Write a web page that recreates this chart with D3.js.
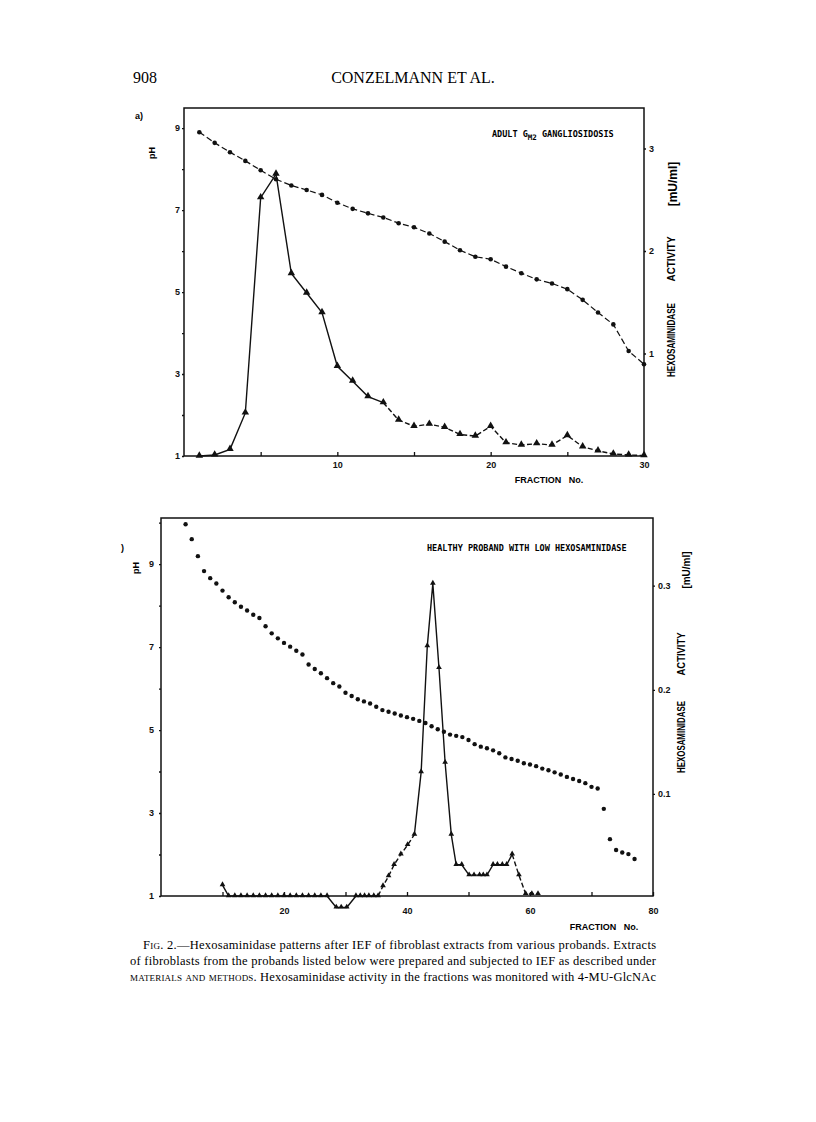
<!DOCTYPE html>
<html>
<head>
<meta charset="utf-8">
<script src="https://cdn.jsdelivr.net/npm/d3@7"></script>
<style>
  body { margin: 0; background: #fff; }
  svg { display: block; }
</style>
</head>
<body>
<script>
// ---- page text ----
const pageNo = "908";
const runningHead = "CONZELMANN ET AL.";

// ---- panel a) adult GM2 gangliosidosis ----
const fracA = [1, 2, 3, 4, 5, 6, 7, 8, 9, 10, 11, 12, 13, 14, 15, 16, 17, 18, 19, 20, 21, 22, 23, 24, 25, 26, 27, 28, 29, 30];
const phA = [8.90, 8.64, 8.41, 8.20, 7.97, 7.75, 7.60, 7.49, 7.37, 7.18, 7.03, 6.92, 6.82, 6.68, 6.58,
             6.43, 6.23, 6.02, 5.86, 5.80, 5.62, 5.46, 5.31, 5.21, 5.07, 4.81, 4.50, 4.21, 3.56, 3.24];
const actA = [0.0, 0.01, 0.065, 0.42, 2.52, 2.75, 1.78, 1.59, 1.40, 0.875, 0.73, 0.58, 0.52, 0.35, 0.29,
              0.31, 0.28, 0.21, 0.195, 0.29, 0.13, 0.107, 0.12, 0.107, 0.20, 0.09, 0.05, 0.02, 0.01, 0.005];
const xTicksA = [5, 10, 15, 20, 25, 30];
const xLabelsA = [10, 20, 30];
const phTicksA = [1, 2, 3, 4, 5, 6, 7, 8, 9];
const phLabelsA = [1, 3, 5, 7, 9];
const actTicksA = [1, 2, 3];

// ---- panel b) healthy proband with low hexosaminidase ----
const fracPhB = [4, 5, 6, 7, 8, 9, 10, 11, 12, 13, 14, 15, 16, 17, 18, 19, 20, 21, 22, 23, 24, 25, 26, 27, 28, 29, 30,
                 31, 32, 33, 34, 35, 36, 37, 38, 39, 40, 41, 42, 43, 44, 45, 46, 47, 48, 49, 50, 51, 52, 53, 54, 55,
                 56, 57, 58, 59, 60, 61, 62, 63, 64, 65, 66, 67, 68, 69, 70, 71, 72, 73, 74, 75, 76, 77];
const phB = [9.96, 9.60, 9.19, 8.83, 8.66, 8.53, 8.36, 8.20, 8.08, 7.97, 7.88, 7.78, 7.70, 7.50, 7.33, 7.21, 7.10,
             7.01, 6.91, 6.82, 6.58, 6.47, 6.37, 6.25, 6.13, 6.05, 5.90, 5.82, 5.74, 5.69, 5.64, 5.56, 5.48, 5.44,
             5.40, 5.35, 5.31, 5.27, 5.22, 5.17, 5.09, 5.02, 4.96, 4.89, 4.86, 4.83, 4.76, 4.66, 4.60, 4.56, 4.51,
             4.44, 4.34, 4.30, 4.26, 4.20, 4.17, 4.13, 4.07, 4.03, 3.98, 3.93, 3.87, 3.82, 3.77, 3.72, 3.63, 3.59,
             3.10, 2.37, 2.11, 2.05, 2.01, 1.89];
const fracActB = [10, 11, 12, 13, 14, 15, 16, 17, 18, 19, 20, 21, 22, 23, 24, 25, 26, 27, 28.5, 29.3, 30.2,
                  31.7, 32.4, 33.1, 33.8, 34.6, 35.3, 36.1, 37, 37.9, 39, 40.1, 41.2, 42.3, 43.3, 44.2, 45.2, 46.2,
                  47.2, 48, 48.9, 50.1, 50.9, 51.8, 52.4, 53, 54, 54.7, 55.5, 56.2, 57.1, 58.2, 59.3, 60.3, 61.3];
const actB = [0.0125, 0.002, 0.002, 0.002, 0.002, 0.002, 0.002, 0.002, 0.002, 0.002, 0.002, 0.002, 0.002, 0.002,
              0.002, 0.002, 0.002, 0.002, -0.009, -0.009, -0.009, 0.002, 0.002, 0.002, 0.002, 0.002, 0.002,
              0.0115, 0.021, 0.032, 0.042, 0.051, 0.061, 0.121, 0.242, 0.302, 0.221, 0.130, 0.061, 0.032, 0.032,
              0.022, 0.022, 0.022, 0.022, 0.022, 0.032, 0.032, 0.032, 0.032, 0.042, 0.022, 0.004, 0.004, 0.004];
const xTicksB = [10, 20, 30, 40, 50, 60, 70, 80];
const xLabelsB = [20, 40, 60, 80];
const phTicksB = [1, 2, 3, 4, 5, 6, 7, 8, 9, 10];
const phLabelsB = [1, 3, 5, 7, 9];
const actTicksB = [0.1, 0.2, 0.3];

// ---- caption ----
const captionLines = [
  ["sc:Fig.", " 2.\u2014Hexosaminidase patterns after IEF of fibroblast extracts from various probands. Extracts"],
  ["of fibroblasts from the probands listed below were prepared and subjected to IEF as described under"],
  ["sc:materials and methods", ". Hexosaminidase activity in the fractions was monitored with 4-MU-GlcNAc"]
];

const W = 816, H = 1122;
const svg = d3.select("body").append("svg")
  .attr("width", W).attr("height", H)
  .style("font-family", "'Liberation Sans', Arial, sans-serif");

svg.append("rect").attr("width", W).attr("height", H).attr("fill", "#fff");

// running head
svg.append("text").attr("x", 133).attr("y", 83)
  .style("font-family", "'Liberation Serif', serif").style("font-size", "16px")
  .text(pageNo);
svg.append("text").attr("x", 413).attr("y", 83).attr("text-anchor", "middle")
  .style("font-family", "'Liberation Serif', serif").style("font-size", "16px")
  .text(runningHead);

// split a polyline into solid / dashed pieces
function pieces(pts, dashRanges) {
  const out = [];
  for (let i = 0; i < pts.length - 1; i++) {
    const a = pts[i], b = pts[i + 1];
    const dashed = dashRanges.some(r => a.f >= r[0] && b.f <= r[1]);
    const last = out[out.length - 1];
    if (last && last.dashed === dashed) last.pts.push(b);
    else out.push({ dashed: dashed, pts: [a, b] });
  }
  return out;
}

function drawPanel(p) {
  const g = svg.append("g");
  const x = d3.scaleLinear().domain(p.xDomain).range([p.left, p.right]);
  const yPh = d3.scaleLinear().domain(p.phDomain).range([p.bottom, p.top]);
  const yAct = d3.scaleLinear().domain(p.actDomain).range([p.bottom, p.top]);

  // frame
  g.append("rect")
    .attr("x", p.left).attr("y", p.top)
    .attr("width", p.right - p.left).attr("height", p.bottom - p.top)
    .attr("fill", "none").attr("stroke", "#111").attr("stroke-width", 1.5);

  const styleAxis = sel => {
    sel.select(".domain").remove();
    sel.selectAll("line").attr("stroke", "#111").attr("stroke-width", 1.3);
    sel.selectAll("text").attr("fill", "#111")
      .style("font-family", "'Liberation Sans', Arial, sans-serif")
      .style("font-size", "9px").style("font-weight", "bold");
  };

  g.append("g").attr("transform", `translate(${p.left},0)`)
    .call(d3.axisLeft(yPh).tickValues(p.phTicks).tickSize(2).tickPadding(p.leftPad)
      .tickFormat(d => p.phLabels.includes(d) ? d : ""))
    .call(styleAxis);

  g.append("g").attr("transform", `translate(0,${p.bottom})`)
    .call(d3.axisBottom(x).tickValues(p.xTicks).tickSizeInner(-4).tickSizeOuter(0).tickPadding(p.bottomPad)
      .tickFormat(d => p.xLabels.includes(d) ? d : ""))
    .call(styleAxis);

  g.append("g").attr("transform", `translate(${p.right},0)`)
    .call(d3.axisRight(yAct).tickValues(p.actTicks).tickSize(2).tickPadding(3)
      .tickFormat(d => String(d)))
    .call(styleAxis);

  // axis titles
  g.append("text")
    .attr("transform", `translate(${p.phTitle[0]},${p.phTitle[1]}) rotate(-90)`)
    .attr("text-anchor", "middle")
    .style("font-size", "9px").style("font-weight", "bold").text("pH");

  g.append("text").attr("x", p.xTitle[0]).attr("y", p.xTitle[1])
    .attr("text-anchor", "middle").style("white-space", "pre")
    .style("font-size", "9px").style("font-weight", "bold").text("FRACTION   No.");

  g.append("text")
    .attr("transform", `translate(${p.hexTitle[0]},${p.hexTitle[1]}) rotate(-90)`)
    .attr("text-anchor", "middle")
    .attr("textLength", p.hexTitle[2]).attr("lengthAdjust", "spacingAndGlyphs")
    .style("font-size", "10px").style("font-weight", "bold").text("HEXOSAMINIDASE");
  g.append("text")
    .attr("transform", `translate(${p.actTitle[0]},${p.actTitle[1]}) rotate(-90)`)
    .attr("text-anchor", "middle")
    .attr("textLength", p.actTitle[2]).attr("lengthAdjust", "spacingAndGlyphs")
    .style("font-size", "10px").style("font-weight", "bold").text("ACTIVITY");
  g.append("text")
    .attr("transform", `translate(${p.unitTitle[0]},${p.unitTitle[1]}) rotate(-90)`)
    .attr("text-anchor", "middle")
    .style("font-size", p.unitSize).style("font-weight", "bold").text("[mU/ml]");

  // panel label
  g.append("text").attr("x", p.tag[0]).attr("y", p.tag[1])
    .style("font-size", "9px").style("font-weight", "bold").text(p.tagText);

  // title inside box
  const t = g.append("text").attr("x", p.title[0]).attr("y", p.title[1])
    .style("font-family", "'DejaVu Sans Mono', monospace").style("font-size", "8.5px")
    .style("font-weight", "bold").style("white-space", "pre");
  p.titleParts.forEach(part => {
    if (part.sub) t.append("tspan").attr("dy", 3).style("font-size", "7.5px").text(part.sub);
    else t.append("tspan").attr("dy", part.back ? -3 : 0).text(part.txt);
  });

  // pH series
  const ph = p.phFrac.map((f, i) => ({ f: f, v: p.phVals[i] }));
  if (p.phLine) {
    g.append("path").datum(ph)
      .attr("d", d3.line().x(d => x(d.f)).y(d => yPh(d.v)))
      .attr("fill", "none").attr("stroke", "#111").attr("stroke-width", 1.2)
      .attr("stroke-dasharray", "6,3");
  }
  g.selectAll(null).data(ph).join("circle")
    .attr("cx", d => x(d.f)).attr("cy", d => yPh(d.v)).attr("r", p.dotR).attr("fill", "#111");

  // activity series
  const act = p.actFrac.map((f, i) => ({ f: f, v: p.actVals[i] }));
  const line = d3.line().x(d => x(d.f)).y(d => yAct(d.v));
  pieces(act, p.dashRanges).forEach(pc => {
    g.append("path").datum(pc.pts).attr("d", line)
      .attr("fill", "none").attr("stroke", "#111").attr("stroke-width", 1.4)
      .attr("stroke-dasharray", pc.dashed ? "5,2.5" : null);
  });
  const tri = d3.symbol().type(d3.symbolTriangle).size(p.triSize);
  g.selectAll(null).data(act).join("path")
    .attr("d", tri)
    .attr("transform", d => `translate(${x(d.f)},${yAct(d.v) - 0.5})`)
    .attr("fill", "#111");
}

drawPanel({
  left: 184, right: 644, top: 108, bottom: 456,
  xDomain: [0, 30], phDomain: [1, 9.49], actDomain: [0, 3.395],
  xTicks: xTicksA, xLabels: xLabelsA, phTicks: phTicksA, phLabels: phLabelsA, actTicks: actTicksA,
  leftPad: 2, bottomPad: 6,
  phTitle: [155, 153], xTitle: [549, 483],
  hexTitle: [675, 340, 74], actTitle: [675, 259, 45], unitTitle: [677, 184], unitSize: "12px",
  tag: [135, 119], tagText: "a)",
  title: [492, 137],
  titleParts: [{ txt: "ADULT G" }, { sub: "M2" }, { txt: " GANGLIOSIDOSIS", back: true }],
  phFrac: fracA, phVals: phA, phLine: true, dotR: 2.3,
  actFrac: fracA, actVals: actA, dashRanges: [[13, 30]], triSize: 24
});

drawPanel({
  left: 161, right: 653, top: 518, bottom: 896,
  xDomain: [0, 80], phDomain: [1, 10.11], actDomain: [0.002, 0.365],
  xTicks: xTicksB, xLabels: xLabelsB, phTicks: phTicksB, phLabels: phLabelsB, actTicks: actTicksB,
  leftPad: 5, bottomPad: 12,
  phTitle: [139, 568], xTitle: [604, 930],
  hexTitle: [685, 737, 72], actTitle: [685, 654, 43], unitTitle: [690, 570], unitSize: "10px",
  tag: [121, 551], tagText: ")",
  title: [427, 551],
  titleParts: [{ txt: "HEALTHY PROBAND WITH LOW HEXOSAMINIDASE" }],
  phFrac: fracPhB, phVals: phB, phLine: false, dotR: 2.2,
  actFrac: fracActB, actVals: actB, dashRanges: [[35.3, 41.2], [57.1, 61.3]], triSize: 14
});

// caption
const cap = svg.append("g")
  .style("font-family", "'Liberation Serif', serif").style("font-size", "12.5px");
const capX = [143, 130, 130];
captionLines.forEach((parts, i) => {
  const t = cap.append("text")
    .attr("x", capX[i]).attr("y", 949 + i * 16)
    .attr("textLength", 656 - capX[i]).attr("lengthAdjust", "spacing");
  parts.forEach(s => {
    if (s.startsWith("sc:")) t.append("tspan").style("font-variant", "small-caps").text(s.slice(3));
    else t.append("tspan").text(s);
  });
});
</script>
</body>
</html>
